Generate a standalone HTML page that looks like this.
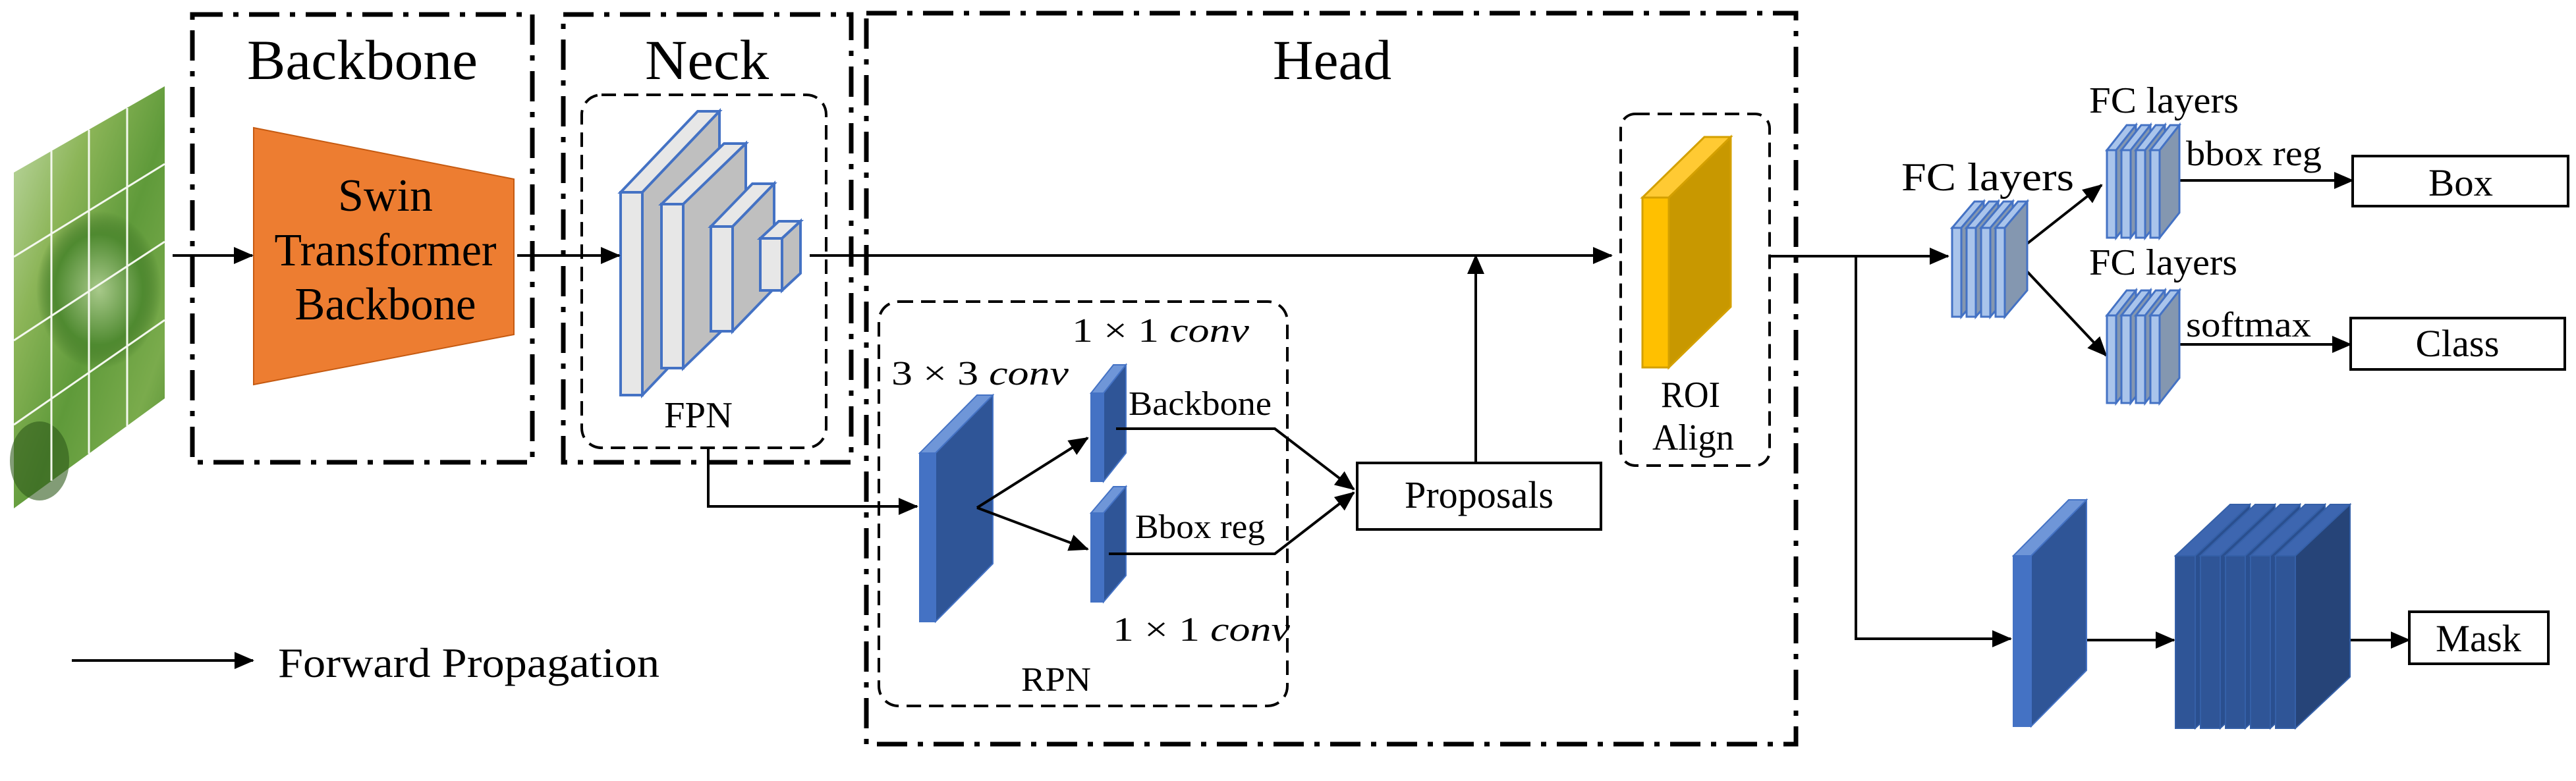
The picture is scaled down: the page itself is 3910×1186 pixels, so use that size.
<!DOCTYPE html>
<html><head><meta charset="utf-8"><style>html,body{margin:0;padding:0;background:#fff}svg{display:block}svg text,svg tspan{font-family:"Liberation Serif","Times New Roman",Times,"Noto Serif CJK SC",serif !important}</style></head>
<body>
<svg width="3910" height="1186" viewBox="0 0 3910 1186" xmlns="http://www.w3.org/2000/svg" fill="#000">
<defs>
<marker id="ah" markerUnits="userSpaceOnUse" markerWidth="30" markerHeight="26" refX="28" refY="13" orient="auto"><path d="M0,0 L30,13 L0,26 Z" fill="#000"/></marker>
<linearGradient id="leaf" x1="0" y1="0" x2="1" y2="1">
<stop offset="0" stop-color="#c4dcae"/><stop offset="0.3" stop-color="#8cb558"/><stop offset="0.55" stop-color="#5f9a3a"/><stop offset="0.8" stop-color="#7aab4c"/><stop offset="1" stop-color="#4f8a30"/>
</linearGradient>
<radialGradient id="bug" cx="0.5" cy="0.5" r="0.5"><stop offset="0" stop-color="#a8c98a"/><stop offset="0.7" stop-color="#4f8a30"/><stop offset="1" stop-color="#3b6f22" stop-opacity="0"/></radialGradient>
</defs>

<polygon points="21,262 250,131 250,605 21,772" fill="url(#leaf)"/>
<ellipse cx="150" cy="440" rx="95" ry="120" fill="url(#bug)"/>
<ellipse cx="60" cy="700" rx="45" ry="60" fill="#2f5a1a" opacity="0.6"/>
<g stroke="#f4f8ee" stroke-width="3">
<line x1="78" y1="229" x2="78" y2="730"/><line x1="135" y1="197" x2="135" y2="689"/><line x1="193" y1="164" x2="193" y2="647"/>
<line x1="21" y1="390" x2="250" y2="249"/><line x1="21" y1="517" x2="250" y2="367"/><line x1="21" y1="645" x2="250" y2="486"/>
</g>

<g fill="none" stroke="#000" stroke-width="7" stroke-dasharray="46 16 8 16">
<rect x="292" y="22" width="516" height="680"/>
<rect x="855" y="22" width="437" height="680"/>
<rect x="1315" y="20" width="1411" height="1110"/>
</g>
<text x="375" y="120" font-family="Liberation Serif, serif" font-size="86" textLength="350" lengthAdjust="spacingAndGlyphs">Backbone</text>
<text x="979" y="120" font-family="Liberation Serif, serif" font-size="86" textLength="188" lengthAdjust="spacingAndGlyphs">Neck</text>
<text x="1932" y="120" font-family="Liberation Serif, serif" font-size="86" textLength="180" lengthAdjust="spacingAndGlyphs">Head</text>

<g fill="none" stroke="#000" stroke-width="4" stroke-dasharray="22 12">
<rect x="883" y="144" width="371" height="536" rx="30"/>
<rect x="1334" y="458" width="620" height="614" rx="30"/>
<rect x="2460" y="173" width="226" height="534" rx="22"/>
</g>

<polygon points="385,194 780,272 780,508 385,584" fill="#ed7d31" stroke="#c55a11" stroke-width="2"/>
<g font-size="70" text-anchor="middle" font-family="Liberation Serif, serif">
<text x="585" y="320">Swin</text>
<text x="585" y="403" textLength="337" lengthAdjust="spacingAndGlyphs">Transformer</text>
<text x="585" y="485" textLength="275" lengthAdjust="spacingAndGlyphs">Backbone</text>
</g>

<g stroke="#4472c4" stroke-width="4" stroke-linejoin="miter">
<polygon points="942,292 975,292 1092,169 1059,169" fill="#e7e7e7"/><polygon points="975,292 1092,169 1092,477 975,600" fill="#bfbfbf"/><rect x="942" y="292" width="33" height="308" fill="#e7e7e7"/>
<polygon points="1004,310 1037,310 1132,218 1099,218" fill="#e7e7e7"/><polygon points="1037,310 1132,218 1132,467 1037,559" fill="#bfbfbf"/><rect x="1004" y="310" width="33" height="249" fill="#e7e7e7"/>
<polygon points="1079,344 1112,344 1175,279 1142,279" fill="#e7e7e7"/><polygon points="1112,344 1175,279 1175,438 1112,503" fill="#bfbfbf"/><rect x="1079" y="344" width="33" height="159" fill="#e7e7e7"/>
<polygon points="1154,362 1187,362 1215,336 1182,336" fill="#e7e7e7"/><polygon points="1187,362 1215,336 1215,415 1187,441" fill="#bfbfbf"/><rect x="1154" y="362" width="33" height="79" fill="#e7e7e7"/>
</g>
<text x="1060" y="649" font-family="Liberation Serif, serif" font-size="56" text-anchor="middle" textLength="104" lengthAdjust="spacingAndGlyphs">FPN</text>

<g stroke="#d4a000" stroke-width="3">
<polygon points="2493,300 2533,300 2627,208 2587,208" fill="#ffca33"/>
<polygon points="2533,300 2627,208 2627,466 2533,558" fill="#c89800"/>
<rect x="2493" y="300" width="40" height="258" fill="#ffc000"/>
</g>
<g font-size="56" text-anchor="middle" font-family="Liberation Serif, serif"><text x="2566" y="618" textLength="90" lengthAdjust="spacingAndGlyphs">ROI</text><text x="2570" y="683" textLength="124" lengthAdjust="spacingAndGlyphs">Align</text></g>

<g stroke="#4472c4" stroke-width="2">
<polygon points="1396,688 1420,688 1507,600 1483,600" fill="#6f96d8"/><polygon points="1420,688 1507,600 1507,856 1420,944" fill="#2f5597"/><rect x="1396" y="688" width="24" height="256" fill="#4472c4"/>
<polygon points="1656,597 1675,597 1709,554 1690,554" fill="#6f96d8"/><polygon points="1675,597 1709,554 1709,688 1675,731" fill="#2f5597"/><rect x="1656" y="597" width="19" height="134" fill="#4472c4"/>
<polygon points="1656,779 1675,779 1709,739 1690,739" fill="#6f96d8"/><polygon points="1675,779 1709,739 1709,874 1675,914" fill="#2f5597"/><rect x="1656" y="779" width="19" height="135" fill="#4472c4"/>
</g>
<g font-size="52" font-family="Liberation Serif, serif">
<text x="1353" y="584" textLength="269" lengthAdjust="spacingAndGlyphs">3 × 3 <tspan font-style="italic">conv</tspan></text>
<text x="1627" y="519" textLength="269" lengthAdjust="spacingAndGlyphs">1 × 1 <tspan font-style="italic">conv</tspan></text>
<text x="1689" y="973" textLength="269" lengthAdjust="spacingAndGlyphs">1 × 1 <tspan font-style="italic">conv</tspan></text>
<text x="1713" y="630" textLength="217" lengthAdjust="spacingAndGlyphs">Backbone</text>
<text x="1723" y="817" textLength="197" lengthAdjust="spacingAndGlyphs">Bbox reg</text>
<text x="1550" y="1049" textLength="106" lengthAdjust="spacingAndGlyphs">RPN</text>
</g>

<rect x="2060" y="703" width="370" height="101" fill="#fff" stroke="#000" stroke-width="4"/>
<text x="2245" y="771" font-family="Liberation Serif, serif" font-size="58" text-anchor="middle" textLength="226" lengthAdjust="spacingAndGlyphs">Proposals</text>

<g stroke="#000" stroke-width="4" fill="none" marker-end="url(#ah)">
<line x1="262" y1="388" x2="383" y2="388"/>
<line x1="785" y1="388" x2="940" y2="388"/>
<line x1="1229" y1="388" x2="2446" y2="388"/>
<line x1="2240" y1="703" x2="2240" y2="388"/>
<polyline points="1075,680 1075,769 1392,769"/>
<line x1="1483" y1="771" x2="1651" y2="665"/>
<line x1="1483" y1="771" x2="1651" y2="834"/>
<polyline points="1694,651 1935,651 2055,743"/>
<polyline points="1683,841 1935,841 2055,748"/>
<polyline points="2686,389 2957,389"/>
<polyline points="2817,389 2817,970 3052,970"/>
<line x1="3054" y1="388" x2="3190" y2="281"/>
<line x1="3054" y1="388" x2="3197" y2="540"/>
<line x1="3302" y1="274" x2="3571" y2="274"/>
<line x1="3302" y1="523" x2="3568" y2="523"/>
<line x1="3129" y1="972" x2="3300" y2="972"/>
<line x1="3529" y1="972" x2="3657" y2="972"/>
<line x1="109" y1="1003" x2="384" y2="1003"/>
</g>

<g stroke="#4472c4" stroke-width="3">
<g>
<polygon points="2963,346 2977,346 3011,306 2997,306" fill="#a9c4eb"/><polygon points="2977,346 3011,306 3011,441 2977,481" fill="#8497b0"/><rect x="2963" y="346" width="14" height="135" fill="#a9c4eb"/>
<polygon points="2985,346 2999,346 3033,306 3019,306" fill="#a9c4eb"/><polygon points="2999,346 3033,306 3033,441 2999,481" fill="#8497b0"/><rect x="2985" y="346" width="14" height="135" fill="#a9c4eb"/>
<polygon points="3007,346 3021,346 3055,306 3041,306" fill="#a9c4eb"/><polygon points="3021,346 3055,306 3055,441 3021,481" fill="#8497b0"/><rect x="3007" y="346" width="14" height="135" fill="#a9c4eb"/>
<polygon points="3029,346 3043,346 3077,306 3063,306" fill="#a9c4eb"/><polygon points="3043,346 3077,306 3077,441 3043,481" fill="#8497b0"/><rect x="3029" y="346" width="14" height="135" fill="#a9c4eb"/>
</g>
<g>
<polygon points="3198,228 3212,228 3242,190 3228,190" fill="#a9c4eb"/><polygon points="3212,228 3242,190 3242,323 3212,361" fill="#8497b0"/><rect x="3198" y="228" width="14" height="133" fill="#a9c4eb"/>
<polygon points="3220,228 3234,228 3264,190 3250,190" fill="#a9c4eb"/><polygon points="3234,228 3264,190 3264,323 3234,361" fill="#8497b0"/><rect x="3220" y="228" width="14" height="133" fill="#a9c4eb"/>
<polygon points="3242,228 3256,228 3286,190 3272,190" fill="#a9c4eb"/><polygon points="3256,228 3286,190 3286,323 3256,361" fill="#8497b0"/><rect x="3242" y="228" width="14" height="133" fill="#a9c4eb"/>
<polygon points="3264,228 3278,228 3308,190 3294,190" fill="#a9c4eb"/><polygon points="3278,228 3308,190 3308,323 3278,361" fill="#8497b0"/><rect x="3264" y="228" width="14" height="133" fill="#a9c4eb"/>
</g>
<g transform="translate(0,251)">
<polygon points="3198,228 3212,228 3242,190 3228,190" fill="#a9c4eb"/><polygon points="3212,228 3242,190 3242,323 3212,361" fill="#8497b0"/><rect x="3198" y="228" width="14" height="133" fill="#a9c4eb"/>
<polygon points="3220,228 3234,228 3264,190 3250,190" fill="#a9c4eb"/><polygon points="3234,228 3264,190 3264,323 3234,361" fill="#8497b0"/><rect x="3220" y="228" width="14" height="133" fill="#a9c4eb"/>
<polygon points="3242,228 3256,228 3286,190 3272,190" fill="#a9c4eb"/><polygon points="3256,228 3286,190 3286,323 3256,361" fill="#8497b0"/><rect x="3242" y="228" width="14" height="133" fill="#a9c4eb"/>
<polygon points="3264,228 3278,228 3308,190 3294,190" fill="#a9c4eb"/><polygon points="3278,228 3308,190 3308,323 3278,361" fill="#8497b0"/><rect x="3264" y="228" width="14" height="133" fill="#a9c4eb"/>
</g>
</g>
<g font-size="60" font-family="Liberation Serif, serif">
<text x="2886" y="289" textLength="262" lengthAdjust="spacingAndGlyphs">FC layers</text>
<text x="3171" y="171" font-size="56" textLength="227" lengthAdjust="spacingAndGlyphs">FC layers</text>
<text x="3171" y="417" font-size="56" textLength="225" lengthAdjust="spacingAndGlyphs">FC layers</text>
<text x="3318" y="251" font-size="54" textLength="206" lengthAdjust="spacingAndGlyphs">bbox reg</text>
<text x="3318" y="511" font-size="54" textLength="190" lengthAdjust="spacingAndGlyphs">softmax</text>
</g>

<g fill="#fff" stroke="#000" stroke-width="4">
<rect x="3571" y="237" width="327" height="76"/>
<rect x="3568" y="483" width="325" height="78"/>
<rect x="3657" y="929" width="211" height="79"/>
</g>
<g font-size="58" text-anchor="middle" font-family="Liberation Serif, serif">
<text x="3735" y="297" textLength="98" lengthAdjust="spacingAndGlyphs">Box</text>
<text x="3730" y="541" textLength="127" lengthAdjust="spacingAndGlyphs">Class</text>
<text x="3762" y="989" textLength="130" lengthAdjust="spacingAndGlyphs">Mask</text>
</g>

<g stroke="#4472c4" stroke-width="2">
<polygon points="3056,844 3083,844 3167,759 3140,759" fill="#6f96d8"/><polygon points="3083,844 3167,759 3167,1018 3083,1103" fill="#2f5597"/><rect x="3056" y="844" width="27" height="259" fill="#4472c4"/>
</g>
<g stroke="#3560a8" stroke-width="2">
<polygon points="3302,844 3332,844 3415,766 3385,766" fill="#3d66b0"/><polygon points="3332,844 3415,766 3415,1028 3332,1106" fill="#2a4f8f"/><rect x="3302" y="844" width="30" height="262" fill="#2f5597"/>
<polygon points="3340,844 3370,844 3453,766 3423,766" fill="#3d66b0"/><polygon points="3370,844 3453,766 3453,1028 3370,1106" fill="#2a4f8f"/><rect x="3340" y="844" width="30" height="262" fill="#2f5597"/>
<polygon points="3378,844 3408,844 3491,766 3461,766" fill="#3d66b0"/><polygon points="3408,844 3491,766 3491,1028 3408,1106" fill="#2a4f8f"/><rect x="3378" y="844" width="30" height="262" fill="#2f5597"/>
<polygon points="3416,844 3446,844 3529,766 3499,766" fill="#3d66b0"/><polygon points="3446,844 3529,766 3529,1028 3446,1106" fill="#2a4f8f"/><rect x="3416" y="844" width="30" height="262" fill="#2f5597"/>
<polygon points="3454,844 3484,844 3567,766 3537,766" fill="#3d66b0"/><polygon points="3484,844 3567,766 3567,1028 3484,1106" fill="#264478"/><rect x="3454" y="844" width="30" height="262" fill="#2f5597"/>
</g>

<text x="422" y="1028" font-family="Liberation Serif, serif" font-size="64" textLength="579" lengthAdjust="spacingAndGlyphs">Forward Propagation</text>
</svg>
</body></html>
